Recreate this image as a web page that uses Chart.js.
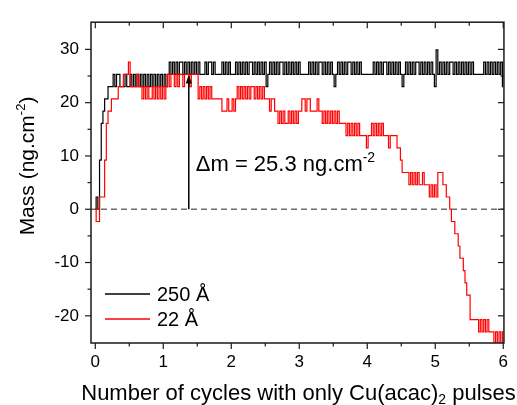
<!DOCTYPE html>
<html>
<head>
<meta charset="utf-8">
<script src="https://cdn.jsdelivr.net/npm/chart.js@4.4.1/dist/chart.umd.min.js"></script>
<style>
html,body{margin:0;padding:0;background:#fff;}
#c{display:block;}
</style>
</head>
<body>
<canvas id="c" width="517" height="405"></canvas>
<script>
// ---- data ----
const SAMPLE_STEP = 0.025; // cycles between consecutive samples
const seriesLabels = ['250 Å', '22 Å'];
// mass (ng.cm-2), film 250 Å
const mass250 = [
  0, 2.3, 0, 9.2, 16.1, 18.4, 20.7, 20.7, 23, 23,
  23, 25.3, 23, 25.3, 25.3, 23, 23, 23, 25.3, 23,
  23, 25.3, 23, 25.3, 23, 25.3, 23, 25.3, 23, 25.3,
  23, 25.3, 23, 25.3, 23, 25.3, 23, 25.3, 23, 25.3,
  23, 25.3, 23, 25.3, 27.6, 25.3, 27.6, 25.3, 27.6, 25.3,
  27.6, 27.6, 25.3, 27.6, 25.3, 27.6, 25.3, 27.6, 25.3, 27.6,
  25.3, 27.6, 25.3, 25.3, 25.3, 27.6, 25.3, 27.6, 27.6, 25.3,
  27.6, 25.3, 25.3, 25.3, 25.3, 27.6, 25.3, 27.6, 25.3, 27.6,
  25.3, 25.3, 25.3, 27.6, 25.3, 27.6, 25.3, 27.6, 25.3, 27.6,
  25.3, 27.6, 27.6, 25.3, 27.6, 25.3, 27.6, 25.3, 27.6, 25.3,
  27.6, 23, 25.3, 27.6, 25.3, 27.6, 25.3, 27.6, 25.3, 27.6,
  27.6, 25.3, 27.6, 25.3, 27.6, 25.3, 27.6, 25.3, 27.6, 25.3,
  27.6, 25.3, 25.3, 25.3, 25.3, 25.3, 27.6, 25.3, 27.6, 25.3,
  27.6, 25.3, 27.6, 27.6, 25.3, 27.6, 25.3, 27.6, 25.3, 27.6,
  25.3, 23, 25.3, 27.6, 25.3, 27.6, 25.3, 27.6, 25.3, 27.6,
  27.6, 25.3, 27.6, 25.3, 27.6, 25.3, 27.6, 25.3, 25.3, 25.3,
  25.3, 25.3, 25.3, 25.3, 27.6, 25.3, 27.6, 25.3, 27.6, 25.3,
  27.6, 27.6, 25.3, 27.6, 25.3, 27.6, 25.3, 27.6, 25.3, 27.6,
  25.3, 23, 25.3, 27.6, 25.3, 27.6, 25.3, 27.6, 25.3, 27.6,
  27.6, 25.3, 27.6, 25.3, 27.6, 25.3, 27.6, 25.3, 27.6, 25.3,
  23, 29.9, 25.3, 27.6, 25.3, 27.6, 25.3, 27.6, 25.3, 27.6,
  27.6, 25.3, 27.6, 25.3, 27.6, 25.3, 27.6, 25.3, 27.6, 25.3,
  27.6, 25.3, 27.6, 25.3, 25.3, 25.3, 25.3, 25.3, 25.3, 27.6,
  25.3, 27.6, 25.3, 27.6, 25.3, 27.6, 25.3, 27.6, 25.3, 27.6,
  23
];
// mass (ng.cm-2), film 22 Å
const mass22 = [
  0, -2.3, -2.3, 2.3, 2.3, 2.3, 9.2, 16.1, 18.4, 18.4,
  20.7, 20.7, 20.7, 20.7, 23, 23, 23, 25.3, 25.3, 25.3,
  27.6, 23, 23, 23, 23, 25.3, 23, 23, 20.7, 23,
  20.7, 23, 20.7, 20.7, 23, 20.7, 23, 20.7, 23, 20.7,
  23, 20.7, 23, 25.3, 23, 25.3, 25.3, 23, 25.3, 23,
  25.3, 25.3, 23, 25.3, 25.3, 25.3, 23, 25.3, 25.3, 25.3,
  25.3, 20.7, 23, 20.7, 23, 20.7, 23, 20.7, 23, 20.7,
  20.7, 20.7, 20.7, 20.7, 20.7, 18.4, 18.4, 18.4, 20.7, 18.4,
  18.4, 20.7, 18.4, 20.7, 23, 20.7, 23, 20.7, 23, 20.7,
  23, 20.7, 23, 23, 20.7, 23, 20.7, 23, 20.7, 23,
  20.7, 20.7, 20.7, 18.4, 20.7, 20.7, 18.4, 18.4, 16.1, 18.4,
  16.1, 18.4, 16.1, 16.1, 18.4, 16.1, 18.4, 16.1, 18.4, 16.1,
  18.4, 18.4, 20.7, 20.7, 18.4, 20.7, 20.7, 18.4, 18.4, 18.4,
  18.4, 20.7, 18.4, 18.4, 16.1, 18.4, 16.1, 18.4, 16.1, 18.4,
  16.1, 18.4, 16.1, 18.4, 16.1, 16.1, 16.1, 16.1, 13.8, 16.1,
  13.8, 16.1, 13.8, 16.1, 13.8, 16.1, 13.8, 13.8, 13.8, 13.8,
  11.5, 13.8, 13.8, 16.1, 13.8, 16.1, 13.8, 16.1, 13.8, 16.1,
  13.8, 13.8, 13.8, 11.5, 13.8, 13.8, 13.8, 13.8, 11.5, 11.5,
  9.2, 6.9, 6.9, 6.9, 6.9, 4.6, 6.9, 4.6, 6.9, 4.6,
  6.9, 4.6, 4.6, 6.9, 4.6, 4.6, 4.6, 2.3, 4.6, 2.3,
  4.6, 2.3, 6.9, 6.9, 6.9, 4.6, 4.6, 2.3, 2.3, 0,
  -2.3, -2.3, -4.6, -4.6, -6.9, -9.2, -9.2, -11.5, -13.8, -16.1,
  -16.1, -20.7, -20.7, -20.7, -20.7, -20.7, -23, -20.7, -23, -20.7,
  -23, -20.7, -23, -23, -23, -25.3, -23, -25.3, -23, -25.3,
  -23
];
const xTicks = [0, 1, 2, 3, 4, 5, 6];
const xMinorTicks = [0.5, 1.5, 2.5, 3.5, 4.5, 5.5];
const yTicks = [-20, -10, 0, 10, 20, 30];
const yMinorTicks = [-15, -5, 5, 15, 25];
const deltaMValue = 25.3;   // arrow top (ng.cm-2)
const deltaMCycle = 1.375;  // arrow position (cycles)

// ---- rendering ----
const FONT = '"Liberation Sans", Arial, Helvetica, sans-serif';
const AXIS_COLOR = '#1a1a1a';

function drawParts(ctx, parts, x, y, align) {
  let total = 0;
  const widths = parts.map(p => {
    ctx.font = p[1] + 'px ' + FONT;
    const w = ctx.measureText(p[0]).width;
    total += w;
    return w;
  });
  let cx = align === 'center' ? x - total / 2 : x;
  ctx.textAlign = 'left';
  ctx.textBaseline = 'alphabetic';
  parts.forEach((p, i) => {
    ctx.font = p[1] + 'px ' + FONT;
    ctx.fillText(p[0], cx, y + p[2]);
    cx += widths[i];
  });
}

function seg(ctx, x1, y1, x2, y2) {
  ctx.beginPath();
  ctx.moveTo(x1, y1);
  ctx.lineTo(x2, y2);
  ctx.stroke();
}

const decorPlugin = {
  id: 'decor',
  beforeDatasetsDraw(chart) {
    const ctx = chart.ctx, ca = chart.chartArea, ys = chart.scales.y;
    const y0 = ys.getPixelForValue(0);
    ctx.save();
    ctx.strokeStyle = '#6e6e6e';
    ctx.lineWidth = 1.5;
    ctx.setLineDash([6, 4]);
    seg(ctx, ca.left, y0, ca.right, y0);
    ctx.restore();
  },
  afterDatasetsDraw(chart) {
    const ctx = chart.ctx, ca = chart.chartArea;
    const xs = chart.scales.x, ys = chart.scales.y;
    ctx.save();
    // frame
    ctx.strokeStyle = AXIS_COLOR;
    ctx.lineWidth = 1.5;
    ctx.strokeRect(ca.left, ca.top, ca.right - ca.left, ca.bottom - ca.top);
    ctx.lineWidth = 1.2;
    const MAJ = 6, MIN = 3.5;
    xTicks.forEach(v => {
      const p = xs.getPixelForValue(v);
      seg(ctx, p, ca.bottom, p, ca.bottom + MAJ);
      seg(ctx, p, ca.top, p, ca.top + MAJ);
    });
    xMinorTicks.forEach(v => {
      const p = xs.getPixelForValue(v);
      seg(ctx, p, ca.bottom, p, ca.bottom + MIN);
      seg(ctx, p, ca.top, p, ca.top + MIN);
    });
    yTicks.forEach(v => {
      const p = ys.getPixelForValue(v);
      seg(ctx, ca.left - MAJ, p, ca.left, p);
      seg(ctx, ca.right - MAJ, p, ca.right, p);
    });
    yMinorTicks.forEach(v => {
      const p = ys.getPixelForValue(v);
      seg(ctx, ca.left - MIN, p, ca.left, p);
      seg(ctx, ca.right - MIN, p, ca.right, p);
    });

    // arrow for delta m
    const ax = xs.getPixelForValue(deltaMCycle);
    const ay0 = ys.getPixelForValue(0);
    const ay1 = ys.getPixelForValue(deltaMValue);
    ctx.strokeStyle = '#000';
    ctx.fillStyle = '#000';
    ctx.lineWidth = 1.5;
    seg(ctx, ax, ay0, ax, ay1 + 6);
    ctx.beginPath();
    ctx.moveTo(ax, ay1);
    ctx.lineTo(ax - 3, ay1 + 9);
    ctx.lineTo(ax + 3, ay1 + 9);
    ctx.closePath();
    ctx.fill();

    // annotation
    drawParts(ctx, [['\u0394m = ' + deltaMValue + ' ng.cm', 22, 0], ['-2', 14, -9]], ax + 7, 171, 'left');

    // legend
    const ds = chart.data.datasets;
    const legY = [294, 319];
    ds.forEach((d, i) => {
      ctx.strokeStyle = d.borderColor;
      ctx.lineWidth = 1.5;
      seg(ctx, 105, legY[i], 150, legY[i]);
      ctx.fillStyle = '#000';
      drawParts(ctx, [[d.label, 20, 0]], 157, legY[i] + 7, 'left');
    });

    // axis titles
    ctx.fillStyle = '#000';
    drawParts(ctx, [['Number of cycles with only Cu(acac)', 22, 0], ['2', 14, 4], [' pulses', 22, 0]], 298.5, 400, 'center');
    ctx.save();
    ctx.translate(34, 166);
    ctx.rotate(-Math.PI / 2);
    drawParts(ctx, [['Mass (ng.cm', 21, 0], ['-2', 13, -9], [')', 21, 0]], 0, 0, 'center');
    ctx.restore();
    ctx.restore();
  }
};

const tickFont = { family: FONT, size: 17 };

new Chart(document.getElementById('c'), {
  type: 'line',
  data: {
    datasets: [
      {
        label: seriesLabels[0],
        data: mass250.map((v, i) => ({ x: i * SAMPLE_STEP, y: v })),
        borderColor: '#000000',
        borderWidth: 1.2,
        pointRadius: 0,
        fill: false,
        stepped: 'middle',
        order: 2
      },
      {
        label: seriesLabels[1],
        data: mass22.map((v, i) => ({ x: i * SAMPLE_STEP, y: v })),
        borderColor: '#ff0000',
        borderWidth: 1.2,
        pointRadius: 0,
        fill: false,
        stepped: 'middle',
        order: 1
      }
    ]
  },
  options: {
    responsive: false,
    animation: false,
    devicePixelRatio: 1,
    layout: { padding: { top: 18, right: 11, left: 0, bottom: 0 } },
    plugins: { legend: { display: false }, tooltip: { enabled: false } },
    scales: {
      x: {
        type: 'linear',
        min: -0.063,
        max: 6.01,
        grid: { display: false, drawTicks: false },
        border: { display: false },
        afterBuildTicks: s => { s.ticks = xTicks.map(v => ({ value: v })); },
        afterFit: s => { s.height = 62; },
        ticks: { font: tickFont, color: '#000', padding: 9, maxRotation: 0, autoSkip: false }
      },
      y: {
        type: 'linear',
        min: -25.1,
        max: 35.1,
        grid: { display: false, drawTicks: false },
        border: { display: false },
        afterBuildTicks: s => { s.ticks = yTicks.map(v => ({ value: v })); },
        afterFit: s => { s.width = 91; },
        ticks: { font: tickFont, color: '#000', padding: 12, autoSkip: false }
      }
    }
  },
  plugins: [decorPlugin]
});
</script>
</body>
</html>
